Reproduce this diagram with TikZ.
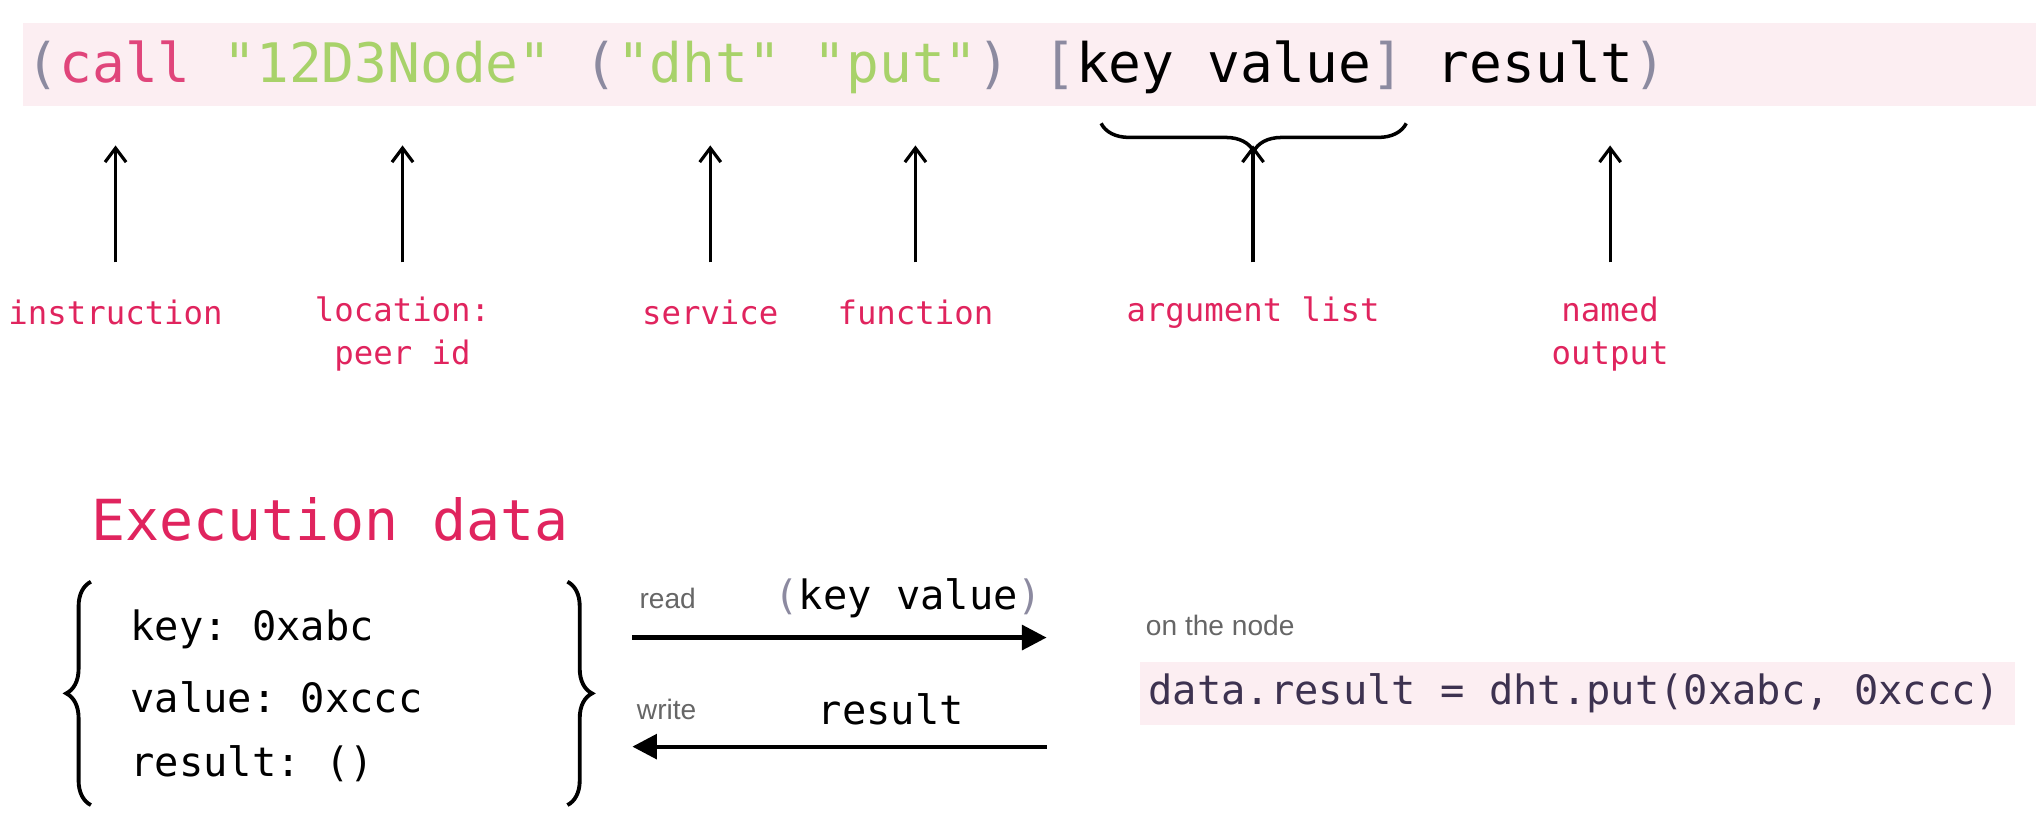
\documentclass[tikz,border=0pt]{standalone}
\usepackage{fontspec}
\setmainfont{Liberation Sans}
\setmonofont{DejaVu Sans Mono}
\usetikzlibrary{decorations.pathreplacing,arrows.meta}
\definecolor{band}{HTML}{FCEEF2}
\definecolor{pk}{HTML}{E0457B}
\definecolor{lbl}{HTML}{E0245E}
\definecolor{gr}{HTML}{A8D26A}
\definecolor{par}{HTML}{8C8AA0}
\definecolor{dk}{HTML}{3D3250}
\definecolor{gy}{HTML}{666666}
\tikzset{
 code/.style={anchor=west,inner sep=0pt,font=\ttfamily\fontsize{15.5}{18}\selectfont},
 lab/.style={inner sep=0pt,align=center,text=lbl,font=\ttfamily\fontsize{9.2}{12.3}\selectfont},
 up/.style={-{Straight Barb[length=4pt,width=6pt]},line width=0.9pt},
 dat/.style={anchor=west,inner sep=0pt,font=\ttfamily\fontsize{11.5}{14}\selectfont},
 gl/.style={anchor=west,inner sep=0pt,text=gy,font=\fontsize{8}{10}\selectfont},
 bar/.style={-{Triangle[length=7pt,width=7pt]},line width=1.2pt},
}
\begin{document}
\begin{tikzpicture}[x=0.012985cm,y=-0.012985cm]
\useasboundingbox (0,0) rectangle (1568,642);
\fill[band] (18,18) rectangle (1568,82);
\node[code] (cl) at (20,52) {\textcolor{par}{(}\textcolor{pk}{call} \textcolor{gr}{"12D3Node"} \textcolor{par}{(}\textcolor{gr}{"dht"} \textcolor{gr}{"put"}\textcolor{par}{)} \textcolor{par}{[}key value\textcolor{par}{]} result\textcolor{par}{)}};
\draw[decorate,decoration={brace,amplitude=8pt},line width=1pt] (1083,95) -- (848,95);
\foreach \x/\n in {89/a,310/b,547/c,705/d,965/e,1240/f}{
 \coordinate (t\n) at (\x,112);
 \coordinate (s\n) at (\x,202);
 \draw[up] (s\n) -- (t\n);
}
\node[lab] (l1) at (89,241) {instruction};
\node[lab] (l2) at (310,257) {location:\\peer id};
\node[lab] (l3) at (547,241) {service};
\node[lab] (l4) at (705,241) {function};
\node[lab] (l5) at (965,241) {argument list};
\node[lab] (l6) at (1240,257) {named\\output};
\node[anchor=west,inner sep=0pt,text=lbl,font=\ttfamily\fontsize{16.1}{18}\selectfont] (ex) at (70,400) {Execution data};
\draw[decorate,decoration={brace,amplitude=7pt},line width=1.1pt] (70,620) -- (70,448);
\draw[decorate,decoration={brace,amplitude=7pt},line width=1.1pt] (437,448) -- (437,620);
\node[dat] (k) at (100,485) {key: 0xabc};
\node[dat] (v) at (100,537) {value: 0xccc};
\node[dat] (r) at (100,588) {result: ()};
\coordinate (r1) at (487,491); \coordinate (r2) at (806,491);
\coordinate (w1) at (806,575); \coordinate (w2) at (487,575);
\draw[bar] (r1) -- (r2);
\draw[bar] (w1) -- (w2);
\node[gl] (rd) at (492,461) {read};
\node[gl] (wr) at (490,546) {write};
\node[dat] (kv) at (596,461) {\textcolor{par}{(}key value\textcolor{par}{)}};
\node[dat,anchor=center] (res) at (686,546) {result};
\node[gl] (on) at (882,482) {on the node};
\fill[band] (878,510) rectangle (1552,558);
\node[dat,text=dk] (cmd) at (884,534) {data.result = dht.put(0xabc, 0xccc)};
\end{tikzpicture}
\end{document}
